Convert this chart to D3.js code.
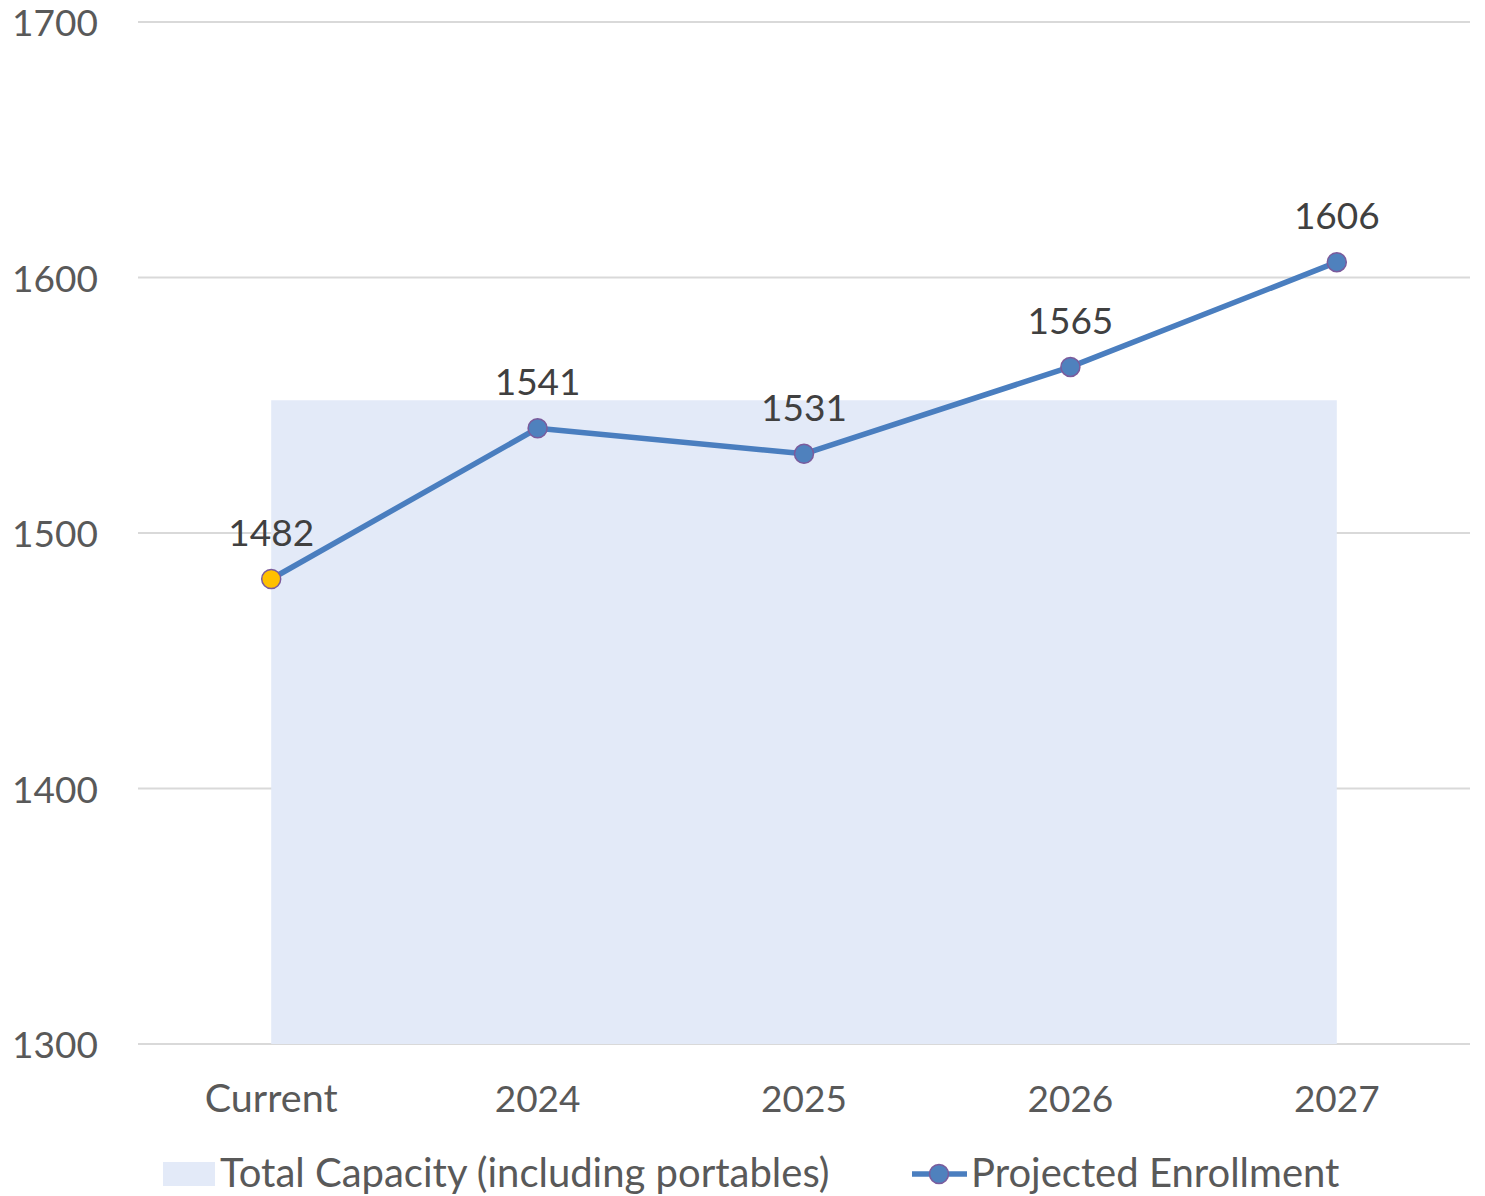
<!DOCTYPE html>
<meta charset="utf-8">
<script src="https://cdn.jsdelivr.net/npm/d3@7"></script>
<style>
body { margin: 0; background: #fff; }
text { font-family: Lato, "Noto Sans", sans-serif; }
</style>
<body>
<script>
var categories = ["Current", "2024", "2025", "2026", "2027"]
var enrollment = [1482, 1541, 1531, 1565, 1606]
var capacity = [1552, 1552, 1552, 1552, 1552]
var yTicks = [1300, 1400, 1500, 1600, 1700]
var legendLabels = ["Total Capacity (including portables)", "Projected Enrollment"]

var W = 1485, H = 1196
var mLeft = 138, mRight = 1470, mTop = 22, mBottom = 1044

var svg = d3.select("body").append("svg").attr("width", W).attr("height", H)

var x = d3.scalePoint().domain(categories).range([mLeft, mRight]).padding(0.5)
var y = d3.scaleLinear().domain([1300, 1700]).range([mBottom, mTop])

// gridlines
svg.append("g").selectAll("line").data(yTicks).enter().append("line")
  .attr("x1", mLeft).attr("x2", mRight)
  .attr("y1", d => y(d)).attr("y2", d => y(d))
  .attr("stroke", "#d9d9d9").attr("stroke-width", 2)

// capacity area
var area = d3.area().x((d, i) => x(categories[i])).y0(y(1300)).y1(d => y(d))
svg.append("path").datum(capacity).attr("d", area).attr("fill", "#e3eaf8")

// y tick labels
svg.append("g").selectAll("text").data(yTicks).enter().append("text")
  .attr("x", 12).attr("y", d => y(d) + 14)
  .attr("font-size", 37).attr("fill", "#595959")
  .text(d => d)

// x labels
svg.append("g").selectAll("text").data(categories).enter().append("text")
  .attr("x", d => x(d)).attr("y", 1112).attr("text-anchor", "middle")
  .attr("font-size", d => isNaN(+d) ? 39.5 : 37).attr("fill", "#595959")
  .text(d => d)

// enrollment line
var line = d3.line().x((d, i) => x(categories[i])).y(d => y(d))
svg.append("path").datum(enrollment).attr("d", line)
  .attr("fill", "none").attr("stroke", "#4a7ebf").attr("stroke-width", 5.5)
  .attr("stroke-linejoin", "round")

svg.append("g").selectAll("circle").data(enrollment).enter().append("circle")
  .attr("cx", (d, i) => x(categories[i])).attr("cy", d => y(d)).attr("r", 9.5)
  .attr("fill", (d, i) => i == 0 ? "#ffc000" : "#4f81bd")
  .attr("stroke", "#7b5b9c").attr("stroke-width", 1.5)

// data labels
svg.append("g").selectAll("text").data(enrollment).enter().append("text")
  .attr("x", (d, i) => x(categories[i])).attr("y", d => y(d) - 33)
  .attr("text-anchor", "middle").attr("font-size", 37).attr("fill", "#404040")
  .text(d => d)

// legend
var lg = svg.append("g")
lg.append("rect").attr("x", 163).attr("y", 1162).attr("width", 52).attr("height", 24).attr("fill", "#e3eaf8")
lg.append("text").attr("x", 220).attr("y", 1187).attr("font-size", 40).attr("fill", "#595959").text(legendLabels[0])
lg.append("line").attr("x1", 912).attr("x2", 967).attr("y1", 1174).attr("y2", 1174)
  .attr("stroke", "#4a7ebf").attr("stroke-width", 5.5)
lg.append("circle").attr("cx", 939).attr("cy", 1174).attr("r", 9.5)
  .attr("fill", "#4f81bd").attr("stroke", "#7b5b9c").attr("stroke-width", 1.5)
lg.append("text").attr("x", 971).attr("y", 1187).attr("font-size", 40).attr("fill", "#595959").text(legendLabels[1])
</script>
</body>
